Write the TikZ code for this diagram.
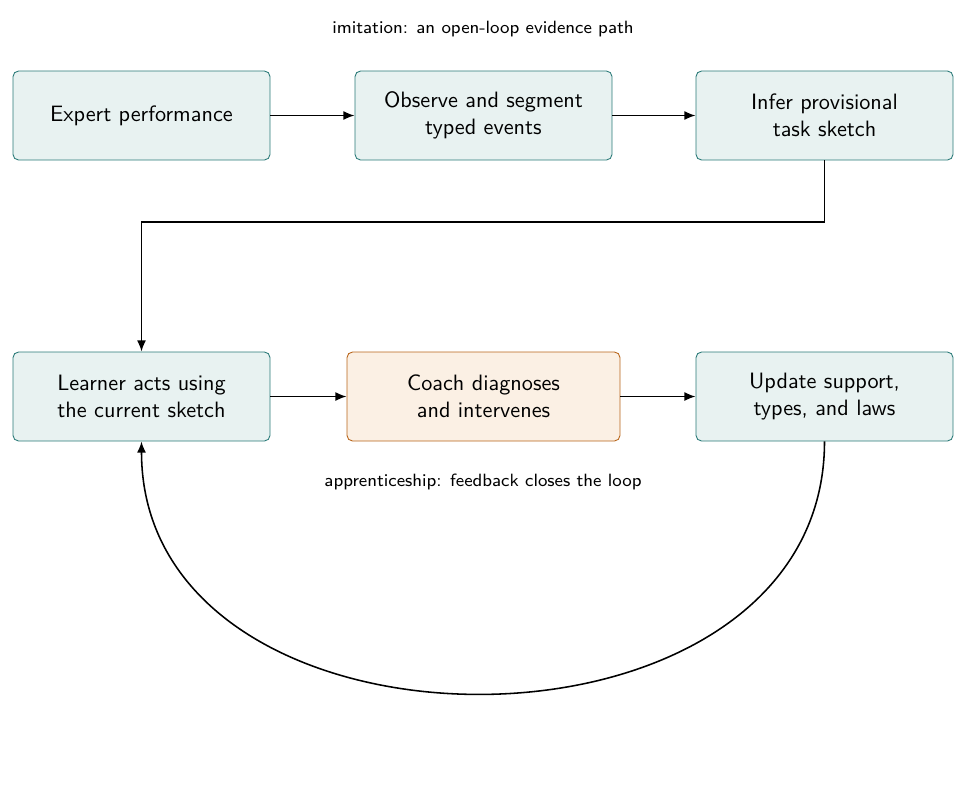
\documentclass[tikz,border=0pt]{standalone}
\usetikzlibrary{arrows.meta}
\definecolor{tealfill}{HTML}{E8F2F1}
\definecolor{tealdraw}{HTML}{2A7A78}
\definecolor{orfill}{HTML}{FBF0E4}
\definecolor{ordraw}{HTML}{B8651A}
\begin{document}
\begin{tikzpicture}[x=0.45pt,y=-0.45pt,font=\sffamily,
  box/.style={draw=tealdraw,fill=tealfill,rounded corners=2.5pt,minimum width=257*0.45pt,minimum height=89*0.45pt,align=center,inner sep=2pt},
  cbox/.style={box,draw=ordraw,fill=orfill,minimum width=273*0.45pt},
  arr/.style={-{Latex[length=5pt,width=4pt]},thick,line width=0.7pt},
  lab/.style={font=\sffamily\footnotesize}]
\useasboundingbox (0,0) rectangle (968,791);
\node[lab] (t1) at (483,29) {imitation: an open-loop evidence path};
\node[lab] (t2) at (483,482) {apprenticeship: feedback closes the loop};
\node[box] (a) at (141.5,115.5) {Expert performance};
\node[box] (b) at (483.5,115.5) {Observe and segment\\typed events};
\node[box] (c) at (824.5,115.5) {Infer provisional\\task sketch};
\node[box] (d) at (141.5,396.5) {Learner acts using\\the current sketch};
\node[cbox] (e) at (483.5,396.5) {Coach diagnoses\\and intervenes};
\node[box] (f) at (824.5,396.5) {Update support,\\types, and laws};
\draw[arr] (a) -- (b);
\draw[arr] (b) -- (c);
\draw[arr] (c.south) |- (141.5,222) -- (d.north);
\draw[arr] (d) -- (e);
\draw[arr] (e) -- (f);
\draw[arr] (f.south) .. controls (824.5,777) and (141.5,777) .. (d.south);
\end{tikzpicture}
\end{document}
